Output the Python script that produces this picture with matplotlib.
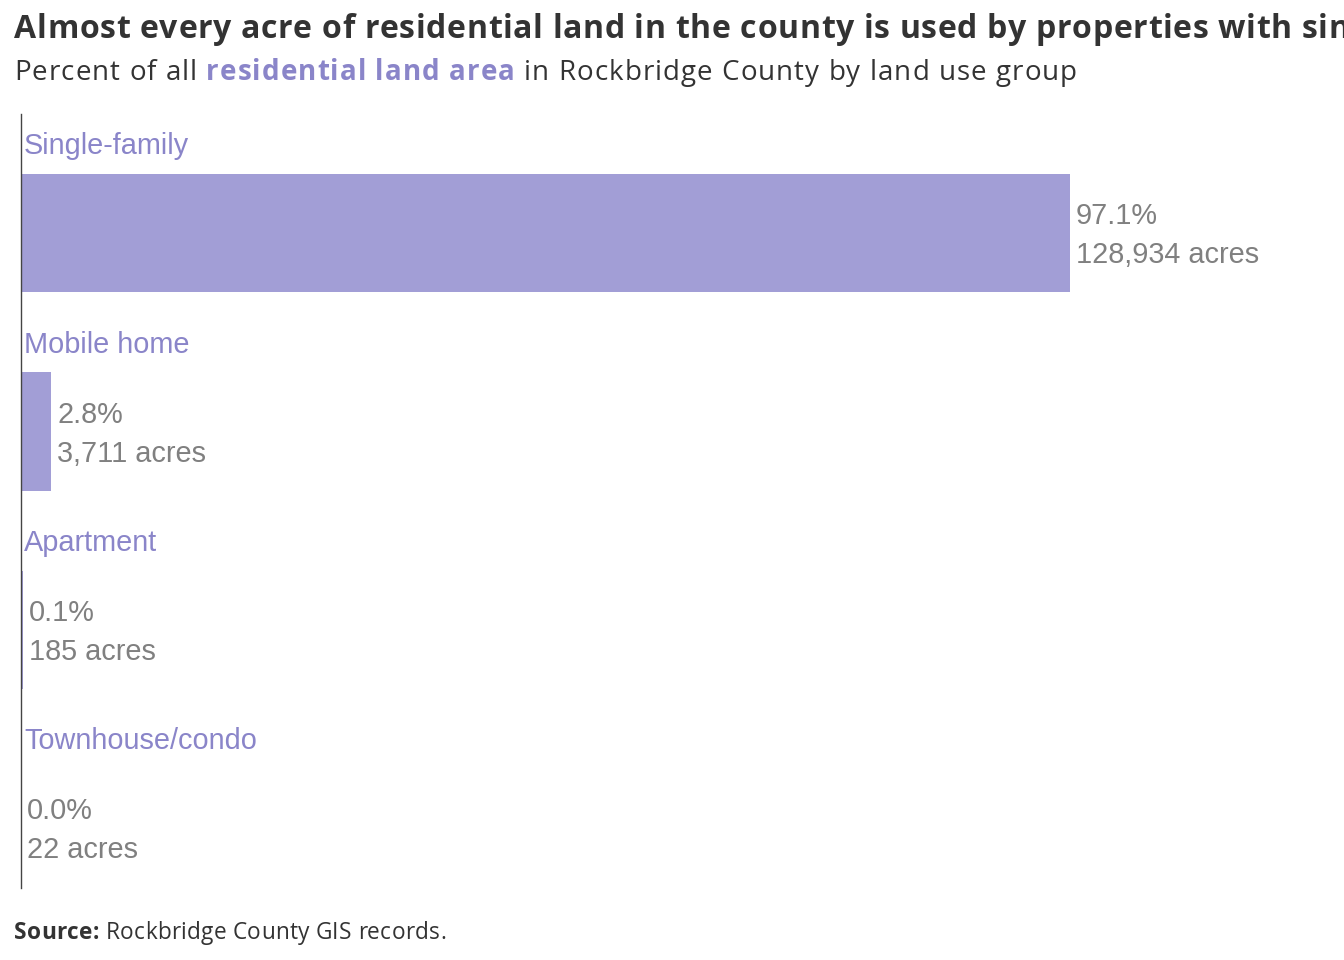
import matplotlib
matplotlib.use("Agg")
import matplotlib.pyplot as plt
from matplotlib.transforms import offset_copy
from matplotlib.font_manager import FontProperties, findfont
from matplotlib import ft2font

categories = ["Single-family", "Mobile home", "Apartment", "Townhouse/condo"]
acres = [128934, 3711, 185, 22]
pct_labels = ["97.1%", "2.8%", "0.1%", "0.0%"]
acre_labels = ["128,934 acres", "3,711 acres", "185 acres", "22 acres"]

total = sum(acres)
shares = [a / total * 100 for a in acres]

W, H = 1344, 960
DPI = 100
fig = plt.figure(figsize=(W / DPI, H / DPI), dpi=DPI)
fig.patch.set_facecolor("white")

BAR = "#a29ed6"
CAT = "#8a85c9"
VAL = "#808080"
DARK = "#333333"

ax_left, ax_right, ax_top, ax_bot = 21, 1344, 114, 888
ax = fig.add_axes([ax_left / W, 1 - ax_bot / H, (ax_right - ax_left) / W, (ax_bot - ax_top) / H])
ax.set_xlim(0, 97.05 * (ax_right - ax_left) / 1049)
ax.set_ylim(3.30, -0.60)
ax.barh(range(len(categories)), shares, height=0.595, color=BAR, edgecolor="none")
for s in ["top", "right", "bottom"]:
    ax.spines[s].set_visible(False)
ax.spines["left"].set_color("#444444")
ax.spines["left"].set_linewidth(1.0)
ax.set_xticks([])
ax.set_yticks([])
ax.patch.set_alpha(0)

lab_font = dict(family=["Liberation Sans", "DejaVu Sans"], fontsize=20.8)
cat_tr = offset_copy(ax.transData, fig=fig, x=3, y=0, units="dots")
val_tr = offset_copy(ax.transData, fig=fig, x=6, y=0, units="dots")
unit = (ax_bot - ax_top) / 3.9  # px per category
for i, (c, s, p, a) in enumerate(zip(categories, shares, pct_labels, acre_labels)):
    ax.text(0, i - 79 / unit, c, color=CAT, va="baseline", ha="left", transform=cat_tr, **lab_font)
    ax.text(s, i - 9 / unit, p, color=VAL, va="baseline", ha="left", transform=val_tr, **lab_font)
    ax.text(s, i + 30 / unit, a, color=VAL, va="baseline", ha="left", transform=val_tr, **lab_font)

try:
    NOHINT = ft2font.LoadFlags.NO_HINTING
except AttributeError:
    NOHINT = ft2font.LOAD_NO_HINTING

_fonts = {}


def advance(ch, family, weight, size):
    key = (family, weight, size)
    if key not in _fonts:
        path = findfont(FontProperties(family=family, weight=weight))
        f = ft2font.FT2Font(path)
        f.set_size(size, DPI)
        _fonts[key] = f
    f = _fonts[key]
    g = f.load_char(ord(ch), flags=NOHINT)
    return g.linearHoriAdvance / 65536.0


def tracked_text(x_px, y_px, parts, target_end, upto_chars):
    """Draw text char by char with uniform letter spacing so that the first
    `upto_chars` characters end at target_end (pixels)."""
    chars = []
    for txt, st in parts:
        for ch in txt:
            chars.append((ch, st))
    advs = [advance(ch, st["family"], st.get("weight", "normal"), st["size"]) for ch, st in chars]
    nat = sum(advs[:upto_chars])
    ls = (target_end - x_px - nat) / max(upto_chars - 1, 1)
    x = x_px
    for (ch, st), a in zip(chars, advs):
        if x >= W:
            break
        if ch != " ":
            fig.text(x / W, 1 - y_px / H, ch, va="baseline", ha="left",
                     family=st["family"], fontweight=st.get("weight", "normal"),
                     fontsize=st["size"], color=st["color"])
        x += a + ls


OS = "Open Sans"
title = "Almost every acre of residential land in the county is used by properties with single-family homes"
upto = title.index(" with") + len(" with")
tracked_text(14, 38, [(title, dict(family=OS, weight="bold", size=23, color=DARK))],
             target_end=1292, upto_chars=upto)

sub_parts = [
    ("Percent of all ", dict(family=OS, size=20, color=DARK)),
    ("residential land area", dict(family=OS, size=20, color=CAT, weight="bold")),
    (" in Rockbridge County by land use group", dict(family=OS, size=20, color=DARK)),
]
tracked_text(14, 80, sub_parts, target_end=1077,
             upto_chars=sum(len(t) for t, _ in sub_parts))

src_parts = [
    ("Source:", dict(family=OS, size=16.3, color=DARK, weight="bold")),
    (" Rockbridge County GIS records.", dict(family=OS, size=16.3, color=DARK)),
]
tracked_text(14, 939, src_parts, target_end=446,
             upto_chars=sum(len(t) for t, _ in src_parts))

fig.savefig("out.png", dpi=DPI, facecolor="white")
